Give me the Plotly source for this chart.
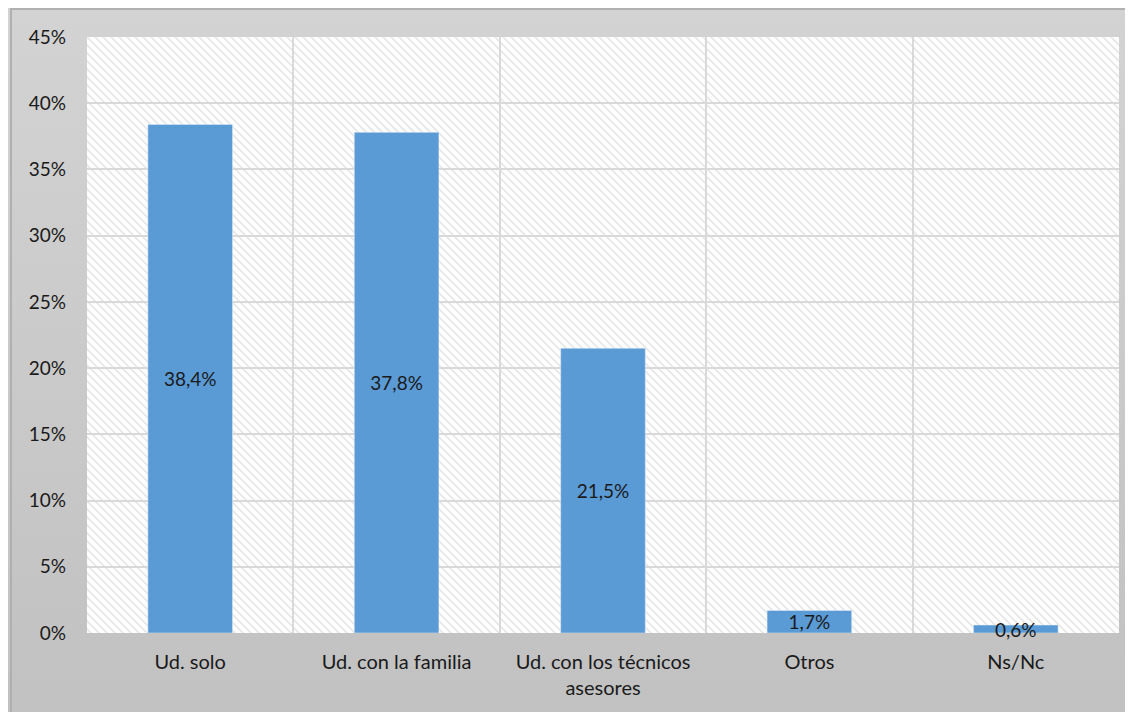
import base64
import plotly.graph_objects as go

categorias = ["Ud. solo", "Ud. con la familia", "Ud. con los técnicos<br>asesores", "Otros", "Ns/Nc"]
porcentajes = [0.384, 0.378, 0.215, 0.017, 0.006]

W, H = 1133, 712
L, R, T, B = 79, 22, 29, 87
pw, ph = W - L - R, H - T - B


def svg_uri(svg):
    return "data:image/svg+xml;base64," + base64.b64encode(svg.encode()).decode()


# fondo degradado del gráfico con borde gris arriba/izquierda
fondo = f"""<svg xmlns='http://www.w3.org/2000/svg' width='{W}' height='{H}' viewBox='0 0 {W} {H}' preserveAspectRatio='none'>
<defs><linearGradient id='g' x1='0' y1='0' x2='0' y2='1'>
<stop offset='0' stop-color='#d3d3d3'/><stop offset='1' stop-color='#c1c1c1'/></linearGradient></defs>
<rect x='0' y='0' width='{W}' height='{H}' fill='url(#g)'/>
<path d='M3,{H} L3,1 L{W},1' fill='none' stroke='#b0b0b0' stroke-width='2'/>
</svg>"""

# trama diagonal del área de trazado
trama = f"""<svg xmlns='http://www.w3.org/2000/svg' width='{pw}' height='{ph}' viewBox='0 0 {pw} {ph}' preserveAspectRatio='none'>
<defs><pattern id='p' width='8' height='8' patternUnits='userSpaceOnUse'>
<path d='M-2,-2 L10,10 M-2,6 L2,10 M6,-2 L10,2' stroke='#e6e6e6' stroke-width='1.6'/></pattern></defs>
<rect width='{pw}' height='{ph}' fill='white'/>
<rect width='{pw}' height='{ph}' fill='url(#p)'/>
</svg>"""

fig = go.Figure(go.Bar(
    x=categorias,
    y=porcentajes,
    marker_color="#5b9bd5",
    texttemplate="%{y:.1%}",
    textposition="inside",
    insidetextanchor="middle",
    textfont=dict(size=19, color="#1a1a1a"),
    cliponaxis=False,
    hoverinfo="skip",
))

fig.update_layout(
    width=W, height=H,
    margin=dict(l=L, r=R, t=T, b=B),
    paper_bgcolor="white",
    plot_bgcolor="white",
    separators=",.",
    font=dict(family="Lato, 'Open Sans', sans-serif", size=19, color="#1a1a1a"),
    bargap=0.59,
    showlegend=False,
    uniformtext=dict(minsize=19, mode="show"),
    images=[
        dict(source=svg_uri(fondo), xref="paper", yref="paper",
             x=-L / pw, y=(H - B) / ph,
             sizex=W / pw, sizey=H / ph,
             xanchor="left", yanchor="top", sizing="stretch", layer="below"),
        dict(source=svg_uri(trama), xref="paper", yref="paper",
             x=0, y=1, sizex=1, sizey=1,
             xanchor="left", yanchor="top", sizing="stretch", layer="below"),
    ],
)

fig.update_xaxes(
    type="category",
    tickson="boundaries",
    showgrid=True, gridcolor="#d9d9d9", gridwidth=2,
    showline=False,
    ticks="", ticklabelstandoff=15,
    tickfont=dict(size=20),
)
fig.update_yaxes(
    range=[0, 0.45], dtick=0.05, tickformat=".0%",
    showgrid=True, gridcolor="#d9d9d9", gridwidth=2,
    zeroline=False, showline=False,
    ticks="", ticklabelstandoff=20,
    tickfont=dict(size=19),
)

fig.write_html("out.html")
